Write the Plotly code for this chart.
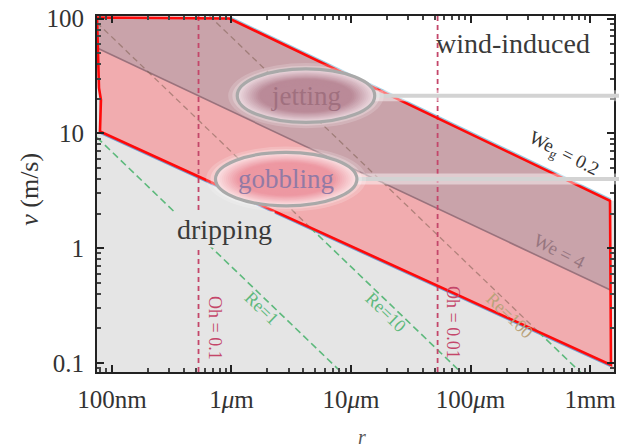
import numpy as np
import plotly.graph_objects as go

# ---------------- data ----------------
x_tick_vals = [1e-7, 1e-6, 1e-5, 1e-4, 1e-3]
x_tick_text = ["100nm", "1<i>μ</i>m", "10<i>μ</i>m", "100<i>μ</i>m", "1mm"]
y_tick_vals = [0.1, 1, 10, 100]
y_tick_text = ["0.1", "1", "10", "100"]

# red outline of the gobbling / jetting regime  (r in m, v in m/s)
regime_r = [7.50e-8, 9.62e-7, 1.468e-3, 1.496e-3, 7.94e-8, 8.09e-8, 7.79e-8, 7.50e-8]
regime_v = [102, 100, 2.59, 0.0961, 10.4, 19.6, 24.9, 102]

# We = 4 boundary
we4_r = [7.6e-8, 1.496e-3]
we4_v = [55, 0.43]

# Reynolds-number lines
re_labels = ["Re=1", "Re=10", "Re=100"]
re_r_start = [7.5e-8, 6.5e-8, 6.5e-7]
re_v_start = [9.2, 106, 106]
re_r_end = [1.2e-5, 1.2e-4, 1.2e-3]
re_v_end = [0.0575, 0.0575, 0.0575]

# Ohnesorge-number lines
oh_labels = ["Oh = 0.1", "Oh = 0.01"]
oh_r = [5.3e-7, 5.3e-5]

# label anchor points (r, v)
re_label_r = [1.78e-6, 1.95e-5, 2.1e-4]
re_label_v = [0.30, 0.28, 0.26]
oh_label_r = [7.2e-7, 7.2e-5]
oh_label_v = [0.2, 0.225]

# ---------------- layout constants ----------------
W, H = 621, 447
ML, MR, MT, MB = 97, 5, 13, 75
PW, PH = W - ML - MR, H - MT - MB
XR = [-7.125, -2.8]
YR = [-1.078, 2.022]

FONT = "Liberation Serif, Times New Roman, serif"
GRAY_BG = "#e5e5e5"
PINK = "#f1acaf"
MAUVE = "#c9a3aa"
GREEN = "#5db97c"
OHC = "#c4466a"


def to_paper(r, v):
    return ((np.log10(r) - XR[0]) / (XR[1] - XR[0]),
            (np.log10(v) - YR[0]) / (YR[1] - YR[0]))


fig = go.Figure()

# wind-induced (white) region above the We_g line
fig.add_trace(go.Scatter(
    x=[regime_r[1], regime_r[2], 1e-2, 1e-2, regime_r[1]],
    y=[regime_v[1], regime_v[2], regime_v[2], 1e3, 1e3],
    fill="toself", fillcolor="white", mode="lines", line=dict(width=0),
    hoverinfo="skip", showlegend=False))

# light-blue halos along the boundaries
fig.add_trace(go.Scatter(x=[regime_r[1], regime_r[2]], y=[regime_v[1], regime_v[2]],
                         mode="lines", line=dict(color="rgba(140,195,220,0.9)", width=5),
                         hoverinfo="skip", showlegend=False))
fig.add_trace(go.Scatter(x=[regime_r[4], regime_r[3]], y=[regime_v[4], regime_v[3]],
                         mode="lines", line=dict(color="rgba(80,130,200,0.75)", width=4.5),
                         hoverinfo="skip", showlegend=False))

# mauve (jetting) region
fig.add_trace(go.Scatter(
    x=[we4_r[0], we4_r[1], regime_r[2], regime_r[1], regime_r[0], we4_r[0]],
    y=[we4_v[0], we4_v[1], regime_v[2], regime_v[1], regime_v[0], we4_v[0]],
    fill="toself", fillcolor=MAUVE, mode="lines", line=dict(width=0),
    hoverinfo="skip", showlegend=False))

# pink (gobbling) region
fig.add_trace(go.Scatter(
    x=[regime_r[4], regime_r[3], we4_r[1], we4_r[0], regime_r[4]],
    y=[regime_v[4], regime_v[3], we4_v[1], we4_v[0], regime_v[4]],
    fill="toself", fillcolor=PINK, mode="lines", line=dict(width=0),
    hoverinfo="skip", showlegend=False))

# We = 4 line
fig.add_trace(go.Scatter(x=we4_r, y=we4_v, mode="lines",
                         line=dict(color="#9a727c", width=1.6),
                         hoverinfo="skip", showlegend=False))

# Re lines: brown inside the coloured regions, green in the dripping region
E = np.log10([regime_r[4], regime_v[4]])
D = np.log10([regime_r[3], regime_v[3]])
for rs, vs, re_, ve in zip(re_r_start, re_v_start, re_r_end, re_v_end):
    A = np.log10([rs, vs])
    B = np.log10([re_, ve])
    M = np.column_stack([B - A, -(D - E)])
    t, s = np.linalg.solve(M, E - A)
    if 0 < t < 1:
        P = A + t * (B - A)
        fig.add_trace(go.Scatter(x=[rs, 10 ** P[0]], y=[vs, 10 ** P[1]], mode="lines",
                                 line=dict(color="rgba(125,95,80,0.55)", width=1.3, dash="6px,4px"),
                                 hoverinfo="skip", showlegend=False))
        gx, gy = [10 ** P[0], re_], [10 ** P[1], ve]
    else:
        gx, gy = [rs, re_], [vs, ve]
    fig.add_trace(go.Scatter(x=gx, y=gy, mode="lines",
                             line=dict(color=GREEN, width=1.6, dash="7px,4px"),
                             hoverinfo="skip", showlegend=False))

# Oh lines
for r in oh_r:
    fig.add_trace(go.Scatter(x=[r, r], y=[10 ** YR[0], 10 ** YR[1]], mode="lines",
                             line=dict(color=OHC, width=1.8, dash="5px,4px"),
                             hoverinfo="skip", showlegend=False))

# red outline
fig.add_trace(go.Scatter(x=regime_r, y=regime_v, mode="lines",
                         line=dict(color="#ff0a0a", width=2.6),
                         hoverinfo="skip", showlegend=False))

# ---------------- callout ellipses ----------------
shapes = []
callouts = [  # (r, v, rx px, ry px, edge rgb, core rgb)
    (4.2e-6, 21.3, 69, 27, (236, 218, 224), (186, 138, 152)),
    (2.87e-6, 4.0, 71, 27, (251, 226, 228), (237, 152, 162)),
]
N_LAYERS = 18
for r, v, rx, ry, edge, core in callouts:
    cx, cy = to_paper(r, v)
    dx, dy = rx / PW, ry / PH
    # connector line to the right edge of the image
    shapes.append(dict(type="line", xref="paper", yref="paper", x0=cx + dx, x1=1 + MR / PW,
                       y0=cy, y1=cy, line=dict(color="rgba(255,255,255,0.45)", width=11)))
    shapes.append(dict(type="line", xref="paper", yref="paper", x0=cx + dx, x1=1 + MR / PW,
                       y0=cy, y1=cy, line=dict(color="#d3d3d3", width=4)))
    # soft haze around the ellipse
    for k, a in [(1.22, 0.18), (1.12, 0.25)]:
        shapes.append(dict(type="circle", xref="paper", yref="paper",
                           x0=cx - dx * (1 + (k - 1) * 0.6), x1=cx + dx * (1 + (k - 1) * 0.6),
                           y0=cy - dy * k, y1=cy + dy * k,
                           fillcolor=f"rgba(255,255,255,{a})", line=dict(width=0)))
    # gradient fill
    for i in range(N_LAYERS):
        f = i / (N_LAYERS - 1)
        sx = 1.0 - 0.5 * f
        sy = 1.0 - 0.6 * f
        w = min(1.0, f * 1.6)
        col = tuple(int(round(edge[j] + (core[j] - edge[j]) * w)) for j in range(3))
        shapes.append(dict(type="circle", xref="paper", yref="paper",
                           x0=cx - dx * sx, x1=cx + dx * sx, y0=cy - dy * sy, y1=cy + dy * sy,
                           fillcolor="rgb(%d,%d,%d)" % col, line=dict(width=0)))
    shapes.append(dict(type="circle", xref="paper", yref="paper",
                       x0=cx - dx, x1=cx + dx, y0=cy - dy, y1=cy + dy,
                       line=dict(color="#a9a9a9", width=3.2)))

# ---------------- text ----------------
def ann(r, v, text, size, color, angle=0, **kw):
    return dict(x=np.log10(r), y=np.log10(v), xref="x", yref="y", text=text,
                showarrow=False, textangle=angle, xanchor="center", yanchor="middle",
                font=dict(family=FONT, size=size, color=color), **kw)


annotations = [
    ann(2.28e-4, 61, "wind-induced", 28, "#3a3a3a"),
    ann(8.7e-7, 1.45, "dripping", 28, "#3a3a3a", bgcolor=GRAY_BG, borderpad=2),
    ann(4.2e-6, 21.3, "jetting", 27, "#a0707f"),
    ann(2.87e-6, 4.0, "gobbling", 27, "#927aa5"),
    ann(5.96e-4, 6.6, "We<sub>g</sub> = 0.2", 19, "#333333", angle=27),
    ann(5.6e-4, 0.94, "We = 4", 19, "#977680", angle=27),
]
for lab, r, v in zip(re_labels, re_label_r, re_label_v):
    col = GREEN if lab != "Re=100" else "#b9a27a"
    annotations.append(ann(r, v, lab, 18, col, angle=44))
for lab, r, v in zip(oh_labels, oh_label_r, oh_label_v):
    annotations.append(ann(r, v, lab, 18, OHC, angle=90))

annotations.append(dict(x=(29 - ML) / PW, y=(H - MB - 188) / PH, xref="paper", yref="paper",
                        text="<i>v</i> (m/s)", showarrow=False, textangle=-90,
                        xanchor="center", yanchor="middle",
                        font=dict(family=FONT, size=26, color="#333333")))
annotations.append(dict(x=(363 - ML) / PW, y=(H - MB - 438) / PH, xref="paper", yref="paper",
                        text="<i>r</i>", showarrow=False, xanchor="center", yanchor="middle",
                        font=dict(family=FONT, size=20, color="#555555")))

minor_x = [k * 10.0 ** n for n in range(-8, -2) for k in range(2, 10)]
minor_y = [k * 10.0 ** n for n in range(-2, 2) for k in range(2, 10)]

axis_common = dict(showgrid=False, zeroline=False, ticks="inside", ticklen=7, tickwidth=1.5,
                   tickcolor="#222", showline=True, linecolor="#222", linewidth=2.2,
                   mirror="ticks",
                   tickfont=dict(family=FONT, size=25, color="#333333"))

fig.update_layout(
    width=W, height=H, autosize=False,
    margin=dict(l=ML, r=MR, t=MT, b=MB),
    paper_bgcolor="white", plot_bgcolor=GRAY_BG,
    showlegend=False,
    xaxis=dict(type="log", range=XR, tickvals=x_tick_vals, ticktext=x_tick_text,
               ticklabelstandoff=4,
               minor=dict(ticks="inside", ticklen=4, tickcolor="#444", tickvals=minor_x),
               **axis_common),
    yaxis=dict(type="log", range=YR, tickvals=y_tick_vals, ticktext=y_tick_text,
               ticklabelstandoff=6,
               minor=dict(ticks="inside", ticklen=4, tickcolor="#444", tickvals=minor_y),
               **axis_common),
    shapes=shapes,
    annotations=annotations,
)

fig.write_html("out.html", config={"displayModeBar": False},
               post_script="document.body.style.margin='0';document.body.style.overflow='hidden';")
